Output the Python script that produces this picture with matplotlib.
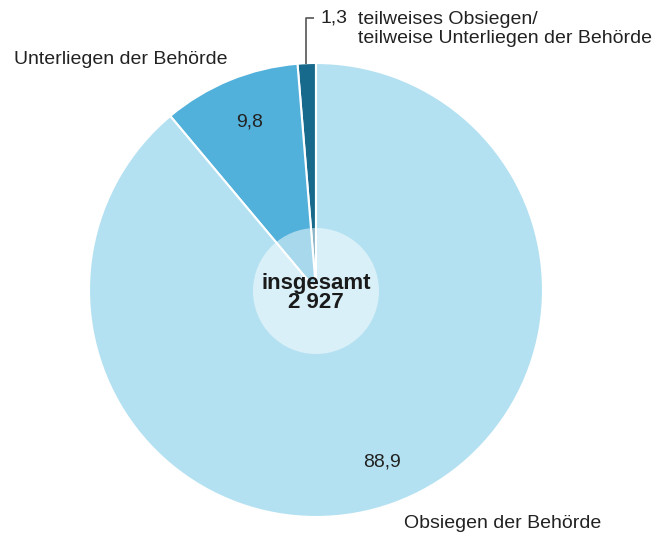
import matplotlib
matplotlib.use("Agg")
import matplotlib.pyplot as plt
from matplotlib.patches import Circle

labels = ["teilweises Obsiegen/\nteilweise Unterliegen der Behörde", "Unterliegen der Behörde", "Obsiegen der Behörde"]
values = [1.3, 9.8, 88.9]
value_labels = ["1,3", "9,8", "88,9"]
colors = ["#186a8c", "#52b1da", "#b3e1f1"]
total_label = "insgesamt\n2 927"

plt.rcParams['font.family'] = ['Liberation Sans', 'DejaVu Sans']
W, H = 656, 537
fig = plt.figure(figsize=(W/100, H/100), dpi=100)
ax = fig.add_axes([0, 0, 1, 1])

cx, cy, r = 316, H - 290, 227
ax.pie(values, colors=colors, startangle=90, counterclock=True, center=(cx, cy), radius=r,
       wedgeprops=dict(edgecolor='white', linewidth=1.5), frame=True)
ax.set_xlim(0, W)
ax.set_ylim(0, H)
ax.set_aspect('equal')
ax.axis('off')

ax.add_patch(Circle((cx, cy - 1), 63, facecolor='white', alpha=0.5, edgecolor='none', zorder=5))
ax.text(cx, H - 293, total_label, ha='center', va='center', fontsize=16, fontweight='bold',
        color='#1a1a1a', linespacing=0.92, zorder=6)

tc = '#222222'
fs = 14
ax.text(250, H - 122, value_labels[1], ha='center', va='center', fontsize=fs, color=tc)
ax.text(382, H - 462, value_labels[2], ha='center', va='center', fontsize=fs, color=tc)
ax.text(14, H - 60, labels[1], ha='left', va='center', fontsize=fs, color=tc)
ax.text(404, H - 523, labels[2], ha='left', va='center', fontsize=fs, color=tc)

# leader for small slice
ax.plot([306, 306, 314], [H - 64, H - 18, H - 18], color='#555555', lw=1.2, solid_capstyle='butt')
ax.text(321, H - 18, value_labels[0], ha='left', va='center', fontsize=fs, color=tc)
ax.text(358, H - 29, labels[0], ha='left', va='center', fontsize=fs, color=tc, linespacing=1.12)

fig.savefig("out.png", dpi=100)
